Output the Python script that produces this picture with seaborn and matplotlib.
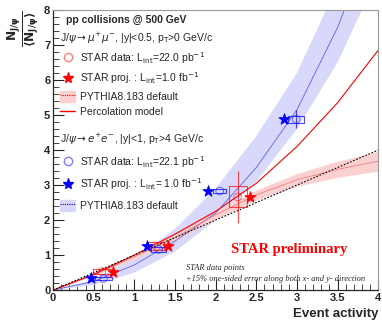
import numpy as np
import pandas as pd
import seaborn as sns
import matplotlib
matplotlib.use("Agg")
from matplotlib import pyplot as plt
from matplotlib.patches import Rectangle, Patch
from matplotlib.lines import Line2D
from matplotlib.ticker import MultipleLocator

# model curves
x_model = [0, 0.5, 1, 1.5, 2, 2.5, 3, 3.5, 4]
diag = [0, 0.5, 1, 1.5, 2, 2.5, 3, 3.5, 4]
percolation = [0, 0.45, 1.0, 1.6, 2.25, 3.05, 4.1, 5.35, 6.85]
pythia_mu = [0, 0.45, 0.95, 1.5, 2.15, 2.72, 3.15, 3.45, 3.68]
pythia_mu_lo = [0, 0.41, 0.88, 1.4, 2.03, 2.58, 2.97, 3.22, 3.4]
pythia_mu_hi = [0, 0.49, 1.02, 1.6, 2.27, 2.86, 3.33, 3.68, 3.96]
pythia_e = [0, 0.25, 0.72, 1.4, 2.2, 3.5, 5.15, 7.5, 10.5]
pythia_e_lo = [0, 0.15, 0.5, 1.1, 2.0, 3.1, 4.6, 6.5, 9.0]
pythia_e_hi = [0, 0.3, 0.9, 1.75, 2.9, 4.4, 6.2, 8.7, 11.0]

# STAR projections
proj_mu_x = [0.74, 1.41, 2.42]
proj_mu_y = [0.52, 1.26, 2.66]
proj_e_x = [0.47, 1.15, 1.9, 2.84]
proj_e_y = [0.35, 1.26, 2.83, 4.88]

# STAR data points with sys boxes
data_mu_x = [0.6, 1.27, 2.27]
data_mu_y = [0.53, 1.25, 2.66]
data_mu_bx = [0.11, 0.1, 0.11]
data_mu_by = [0.07, 0.11, 0.3]
data_mu_err = [0, 0, 0.74]
data_e_x = [0.62, 1.3, 2.05, 2.99]
data_e_y = [0.33, 1.16, 2.83, 4.88]
data_e_bx = [0.11, 0.09, 0.08, 0.1]
data_e_by = [0.04, 0.06, 0.06, 0.1]
data_e_err = [0, 0, 0, 0.25]

red = "#ff0000"
blue = "#0000ff"

sns.set_style("ticks")
plt.rcParams['font.family'] = ['Liberation Sans', 'DejaVu Sans']
plt.rcParams['mathtext.fontset'] = 'dejavusans'

fig = plt.figure(figsize=(3.82, 3.22), dpi=100)
ax = fig.add_axes([0.139, 0.099, 0.851, 0.870])

models = pd.DataFrame({"x": x_model, "diag": diag, "perc": percolation,
                       "mu": pythia_mu, "e": pythia_e})

ax.fill_between(x_model, pythia_e_lo, pythia_e_hi, color="#d8d8fa", lw=0, zorder=1)
ax.fill_between(x_model, pythia_mu_lo, pythia_mu_hi, color="#fbd0d0", lw=0, zorder=1.5)
sns.lineplot(data=models, x="x", y="e", ax=ax, color="#6060f0", lw=0.6, zorder=2)
sns.lineplot(data=models, x="x", y="mu", ax=ax, color="#f08080", lw=0.6, zorder=2)
sns.lineplot(data=models, x="x", y="perc", ax=ax, color=red, lw=0.8, zorder=2)
sns.lineplot(data=models, x="x", y="diag", ax=ax, color="black", lw=0.8,
             linestyle=(0, (1.5, 1.5)), zorder=2)

# sys boxes + open circles
for xs, ys, bx, by, err, c in [(data_mu_x, data_mu_y, data_mu_bx, data_mu_by, data_mu_err, red),
                               (data_e_x, data_e_y, data_e_bx, data_e_by, data_e_err, blue)]:
    for i in range(len(xs)):
        ax.add_patch(Rectangle((xs[i] - bx[i], ys[i] - by[i]), 2 * bx[i], 2 * by[i],
                               fill=False, ec=c, lw=0.8, alpha=0.7, zorder=3))
    ax.errorbar(xs, ys, yerr=err, fmt="none", ecolor=c, elinewidth=0.8, alpha=0.7, zorder=3)
    sns.scatterplot(x=xs, y=ys, ax=ax, marker="o", s=30, facecolor="none",
                    edgecolor=c, linewidth=0.6, alpha=0.6, zorder=3)

sns.scatterplot(x=proj_mu_x, y=proj_mu_y, ax=ax, marker="*", s=70, color=red,
                edgecolor=red, zorder=4)
sns.scatterplot(x=proj_e_x, y=proj_e_y, ax=ax, marker="*", s=70, color=blue,
                edgecolor=blue, zorder=4)

ax.set_xlim(0, 4)
ax.set_ylim(0, 8)
ax.xaxis.set_major_locator(MultipleLocator(0.5))
ax.xaxis.set_minor_locator(MultipleLocator(0.1))
ax.yaxis.set_major_locator(MultipleLocator(1))
ax.yaxis.set_minor_locator(MultipleLocator(0.2))
ax.set_xticks([0, 0.5, 1, 1.5, 2, 2.5, 3, 3.5, 4])
ax.set_xticklabels(["0", "0.5", "1", "1.5", "2", "2.5", "3", "3.5", "4"])
ax.tick_params(which="major", direction="in", length=8, width=0.8, labelsize=8, pad=2)
ax.tick_params(which="minor", direction="in", length=4, width=0.6)
for lbl in ax.get_xticklabels() + ax.get_yticklabels():
    lbl.set_fontweight("bold")
for s in ["top", "right"]:
    ax.spines[s].set_visible(True)
    ax.spines[s].set_color("#999999")
    ax.spines[s].set_linewidth(0.8)
for s in ["left", "bottom"]:
    ax.spines[s].set_linewidth(0.9)

ax.set_xlabel("Event activity", fontsize=9.5, fontweight="bold", loc="right", labelpad=4)
ax.set_ylabel(r"$\mathbf{\frac{N_{J/\psi}}{\langle N_{J/\psi}\rangle}}$", fontsize=12.5,
              loc="top", labelpad=2)

# legends
leg_kw = dict(loc="upper left", alignment="left", frameon=False, fontsize=7.5,
              title_fontsize=7.5, handlelength=1.4, handleheight=1.3,
              handletextpad=0.5, borderpad=0.2)
ax.text(0.04, 0.964, "pp collisions @ 500 GeV", transform=ax.transAxes,
        fontsize=7.5, fontweight="bold", va="center")
mu_handles = [
    Line2D([], [], ls="none", marker="o", mfc="none", mec=red, alpha=0.5, ms=6),
    Line2D([], [], ls="none", marker="*", color=red, ms=8),
    (Patch(color="#fbd0d0"), Line2D([], [], color=red, ls=(0, (1, 1)), lw=0.8)),
    Line2D([], [], color=red, lw=1),
]
mu_labels = [r"STAR data: L$_{\rm int}$=22.0 pb$^{-1}$",
             r"STAR proj. : L$_{\rm int}$=1.0 fb$^{-1}$",
             "PYTHIA8.183 default", "Percolation model"]
leg1 = ax.legend(mu_handles, mu_labels, bbox_to_anchor=(0.0, 0.952), labelspacing=0.42,
                 title=r"J/$\psi\rightarrow\mu^{+}\mu^{-}$, |y|<0.5, p$_{\rm T}$>0 GeV/c",
                 **leg_kw)
ax.add_artist(leg1)
e_handles = [
    Line2D([], [], ls="none", marker="o", mfc="none", mec=blue, alpha=0.5, ms=6),
    Line2D([], [], ls="none", marker="*", color=blue, ms=8),
    (Patch(color="#d8d8fa"), Line2D([], [], color=blue, ls=(0, (1, 1)), lw=0.8)),
]
e_labels = [r"STAR data: L$_{\rm int}$=22.1 pb$^{-1}$",
            r"STAR proj. : L$_{\rm int}$= 1.0 fb$^{-1}$",
            "PYTHIA8.183 default"]
ax.legend(e_handles, e_labels, bbox_to_anchor=(0.0, 0.592), labelspacing=0.68,
          title=r"J/$\psi\rightarrow e^{+}e^{-}$, |y|<1, p$_{\rm T}$>4 GeV/c",
          **leg_kw)

ax.text(2.9, 1.15, "STAR preliminary", color=red, fontsize=10.5, fontweight="bold",
        family="Liberation Serif", ha="center", va="center")
ax.text(1.63, 0.63, "STAR data points", fontsize=6, style="italic",
        family="Liberation Serif", va="center")
ax.text(1.63, 0.33, "+15% one-sided error along both x- and y- direction", fontsize=6,
        style="italic", family="Liberation Serif", va="center")

fig.savefig("out.png", dpi=100)
